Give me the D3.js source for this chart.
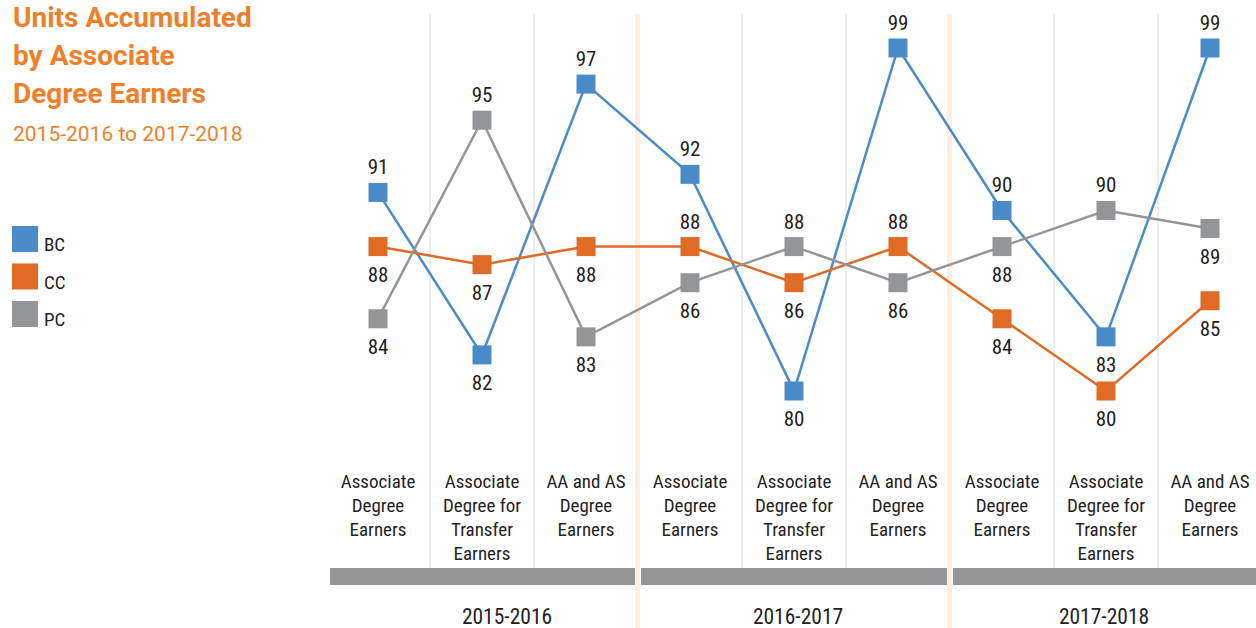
<!DOCTYPE html>
<html>
<head>
<meta charset="utf-8">
<script src="https://cdn.jsdelivr.net/npm/d3@7"></script>
<style>
  body { margin: 0; background: #fff; }
  svg text { font-family: "Roboto Condensed", "Liberation Sans Narrow", "DejaVu Sans Condensed", Roboto, sans-serif; }
  svg text.head { font-family: Roboto, "Noto Sans", sans-serif; }
</style>
</head>
<body>
<div id="chart"></div>
<script>
// categories along the x axis, grouped by year
var years = ['2015-2016', '2016-2017', '2017-2018'];
var degreeTypes = [
    ['Associate', 'Degree', 'Earners'],
    ['Associate', 'Degree for', 'Transfer', 'Earners'],
    ['AA and AS', 'Degree', 'Earners']
];

// units accumulated, one value per year x degree type
var bc = [91, 82, 97, 92, 80, 99, 90, 83, 99];
var cc = [88, 87, 88, 88, 86, 88, 84, 80, 85];
var pc = [84, 95, 83, 86, 88, 86, 88, 90, 89];

// which side of the marker each value label sits on
var bcPos = ['up', 'down', 'up', 'up', 'down', 'up', 'up', 'down', 'up'];
var ccPos = ['down', 'down', 'down', 'up', 'down', 'up', 'down', 'down', 'down'];
var pcPos = ['down', 'up', 'down', 'down', 'up', 'down', 'down', 'up', 'down'];

var seriesNames = ['BC', 'CC', 'PC'];
var seriesColors = ['#4a8cc9', '#e06b26', '#939598'];

const width = 1256;
const height = 628;

var series = [
    { name: 'BC', values: bc, pos: bcPos, color: seriesColors[0] },
    { name: 'CC', values: cc, pos: ccPos, color: seriesColors[1] },
    { name: 'PC', values: pc, pos: pcPos, color: seriesColors[2] }
];

// one slot per year/degree pair
var slots = [];
years.forEach(function(y, yi) {
    degreeTypes.forEach(function(d, di) {
        slots.push({ year: y, lines: d, key: yi * 3 + di });
    });
});

var svg = d3.select('#chart').append('svg')
    .attr('width', width)
    .attr('height', height);

var x = d3.scaleBand()
    .domain(slots.map(function(d) { return d.key; }))
    .range([326, 326 + 9 * 104])
    .padding(0);

var y = d3.scaleLinear()
    .domain([80, 99])
    .range([391, 48]);

function cx(i) { return x(i) + x.bandwidth() / 2; }

// light gray column dividers (skip year boundaries)
svg.selectAll('.grid')
    .data(slots.filter(function(d) { return d.key % 3 != 0; }))
    .enter().append('line')
    .attr('x1', function(d) { return x(d.key); })
    .attr('x2', function(d) { return x(d.key); })
    .attr('y1', 14)
    .attr('y2', 568)
    .style('stroke', '#e3e3e3')
    .style('stroke-width', 1.2);

// peach year separators
svg.selectAll('.sep')
    .data([3, 6])
    .enter().append('rect')
    .attr('x', function(d) { return x(d) - 3; })
    .attr('y', 14)
    .attr('width', 5)
    .attr('height', height - 14)
    .style('fill', '#fdf0e2');

// gray year bars
svg.selectAll('.yearbar')
    .data(years)
    .enter().append('rect')
    .attr('x', function(d, i) { return i == 0 ? 330 : x(i * 3) + 3; })
    .attr('y', 568)
    .attr('width', function(d, i) {
        var start = i == 0 ? 330 : x(i * 3) + 3;
        var end = i == 2 ? width : x(i * 3 + 3) - 3;
        return end - start;
    })
    .attr('height', 17)
    .style('fill', '#939598');

var yearCenters = [507, 798, 1104];
svg.selectAll('.yearlabel')
    .data(years)
    .enter().append('text')
    .attr('x', function(d, i) { return yearCenters[i]; })
    .attr('y', 624)
    .attr('text-anchor', 'middle')
    .style('font-size', '21.5px')
    .style('fill', '#231f20')
    .text(function(d) { return d; });

// category labels
var cat = svg.selectAll('.cat')
    .data(slots)
    .enter().append('text')
    .attr('text-anchor', 'middle')
    .style('font-size', '19px')
    .style('fill', '#231f20');

cat.selectAll('tspan')
    .data(function(d) { return d.lines.map(function(l) { return { t: l, key: d.key }; }); })
    .enter().append('tspan')
    .attr('x', function(d) { return cx(d.key); })
    .attr('y', function(d, i) { return 488 + i * 24; })
    .text(function(d) { return d.t; });

// lines
var line = d3.line()
    .x(function(d, i) { return cx(i); })
    .y(function(d) { return y(d); });

svg.selectAll('.series')
    .data(series)
    .enter().append('path')
    .attr('d', function(d) { return line(d.values); })
    .style('fill', 'none')
    .style('stroke', function(d) { return d.color; })
    .style('stroke-width', 2.5);

// markers and value labels
series.forEach(function(s) {
    var g = svg.append('g');
    g.selectAll('rect')
        .data(s.values)
        .enter().append('rect')
        .attr('x', function(d, i) { return cx(i) - 9.5; })
        .attr('y', function(d) { return y(d) - 9.5; })
        .attr('width', 19)
        .attr('height', 19)
        .style('fill', s.color);

    g.selectAll('text')
        .data(s.values)
        .enter().append('text')
        .attr('x', function(d, i) { return cx(i); })
        .attr('y', function(d, i) { return s.pos[i] == 'up' ? y(d) - 18 : y(d) + 35; })
        .attr('text-anchor', 'middle')
        .style('font-size', '21px')
        .style('fill', '#231f20')
        .text(function(d) { return d; });
});

// title block
var title = svg.append('text')
    .attr('class', 'head')
    .style('font-size', '28px')
    .style('font-weight', 'bold')
    .style('fill', '#f07f2a');
['Units Accumulated', 'by Associate', 'Degree Earners'].forEach(function(t, i) {
    title.append('tspan').attr('x', 13).attr('y', 27 + i * 38).text(t);
});

svg.append('text')
    .attr('class', 'head')
    .attr('x', 13)
    .attr('y', 141)
    .style('font-size', '21px')
    .style('fill', '#f07f2a')
    .text('2015-2016 to 2017-2018');

// legend
var legend = svg.selectAll('.legend')
    .data(seriesNames)
    .enter().append('g')
    .attr('transform', function(d, i) { return 'translate(12,' + (226 + i * 37.5) + ')'; });

legend.append('rect')
    .attr('width', 26)
    .attr('height', 26)
    .style('fill', function(d, i) { return seriesColors[i]; });

legend.append('text')
    .attr('x', 32)
    .attr('y', 25)
    .style('font-size', '19px')
    .style('fill', '#231f20')
    .text(function(d) { return d; });
</script>
</body>
</html>
